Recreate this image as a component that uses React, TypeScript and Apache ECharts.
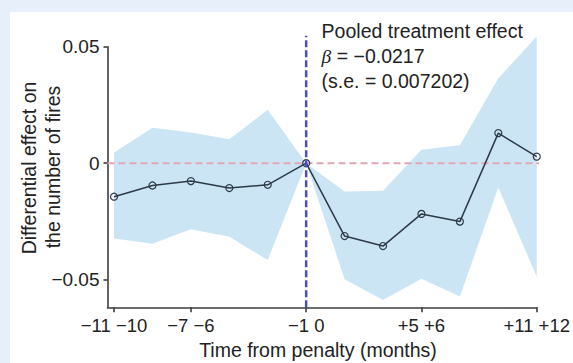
import React, { useEffect, useRef } from 'react';
import * as echarts from 'echarts';

// Two-month bins, relative to the penalty
const binLabels = ['−11 −10', '−9 −8', '−7 −6', '−5 −4', '−3 −2', '−1 0', '+1 +2', '+3 +4', '+5 +6', '+7 +8', '+9 +10', '+11 +12'];
const labelledBins = [0, 2, 5, 8, 11];
const estimate = [-0.0144, -0.0096, -0.0077, -0.0107, -0.0093, 0, -0.0313, -0.0356, -0.0218, -0.0251, 0.0129, 0.0028];
const upper = [0.0046, 0.0152, 0.0132, 0.0103, 0.0229, 0, -0.0122, -0.0119, 0.0057, 0.0077, 0.0365, 0.0544];
const lower = [-0.0324, -0.0346, -0.0284, -0.0316, -0.0416, 0, -0.0499, -0.0588, -0.0496, -0.0573, -0.0105, -0.0487];
const yTicks = [-0.05, 0, 0.05];
const yTickLabels = ['−0.05', '0', '0.05'];
const penaltyBin = 5;
const xRange = [-0.17, 11];
const yRange = [-0.0619, 0.05];
const zeroLineEnd = 11.2;
const penaltyLineTop = 0.0547;
const annotationLines = ['Pooled treatment effect', '{b|β} = −0.0217', '(s.e. = 0.007202)'];
const yTitleLines = ['Differential effect on', 'the number of fires'];
const xTitle = 'Time from penalty (months)';

const FONT = '"Liberation Sans", Arial, Helvetica, sans-serif';
const TEXT = '#222222';
const AXIS = '#3d3d3d';
const BAND = '#cce5f5';

export default function App() {
  const ref = useRef<HTMLDivElement>(null);
  useEffect(() => {
    if (!ref.current) return;
    const chart = echarts.init(ref.current, undefined, { renderer: 'svg' });
    const nearestY = (v: number) => {
      let best = 0;
      yTicks.forEach((t, i) => { if (Math.abs(t - v) < Math.abs(yTicks[best] - v)) best = i; });
      return yTickLabels[best];
    };
    chart.setOption({
      animation: false,
      grid: { left: 107.5, right: 32.8, top: 46.7, bottom: 55.7, containLabel: false },
      xAxis: {
        type: 'value',
        min: xRange[0],
        max: xRange[1],
        splitLine: { show: false },
        axisLine: { show: true, onZero: false, lineStyle: { color: AXIS, width: 1.6 } },
        axisTick: { show: true, customValues: labelledBins, length: 5, lineStyle: { color: AXIS, width: 1.6 } },
        axisLabel: {
          customValues: labelledBins,
          formatter: (v: number) => binLabels[Math.round(v)],
          color: TEXT, fontSize: 18.5, fontFamily: FONT, margin: 9,
        },
      },
      yAxis: {
        type: 'value',
        min: yRange[0],
        max: yRange[1],
        splitLine: { show: false },
        axisLine: { show: true, onZero: false, lineStyle: { color: AXIS, width: 1.6 } },
        axisTick: { show: true, customValues: yTicks, length: 4, lineStyle: { color: AXIS, width: 1.6 } },
        axisLabel: {
          customValues: yTicks,
          formatter: (v: number) => nearestY(v),
          color: TEXT, fontSize: 19, fontFamily: FONT, margin: 8,
        },
      },
      series: [
        {
          type: 'custom', name: 'band', clip: false, silent: true, z: 1,
          data: upper.map((v, i) => [i, v, lower[i]]),
          encode: { x: 0, y: [1, 2] },
          renderItem: (params: any, api: any) => {
            if (params.dataIndex !== 0) return null;
            const top = upper.map((v, i) => api.coord([i, v]));
            const bottom = lower.map((v, i) => api.coord([i, v])).reverse();
            return {
              type: 'polygon',
              shape: { points: top.concat(bottom) },
              style: { fill: BAND },
            };
          },
        },
        {
          type: 'line', name: 'zero', clip: false,
          data: [[xRange[0], 0], [zeroLineEnd, 0]],
          symbol: 'none',
          lineStyle: { color: '#e2a6b4', width: 2, type: [7, 4] }, z: 2, silent: true,
        },
        {
          type: 'line', name: 'estimate', clip: false,
          data: estimate.map((v, i) => [i, v]),
          symbol: 'circle', symbolSize: 7,
          lineStyle: { color: '#2c3a47', width: 1.5 },
          itemStyle: { color: 'rgba(0,0,0,0)', borderColor: '#2c3a47', borderWidth: 1.2 },
          z: 3,
        },
        {
          type: 'line', name: 'penalty', clip: false,
          data: [[penaltyBin, yRange[0]], [penaltyBin, penaltyLineTop]],
          symbol: 'none',
          lineStyle: { color: '#4a4ccc', width: 2.5, type: [7, 3] }, z: 4, silent: true,
        },
      ],
      graphic: [
        {
          type: 'text', x: 29, y: 168, rotation: Math.PI / 2,
          style: { text: yTitleLines[0], fontSize: 19.5, fontFamily: FONT, fill: TEXT, align: 'center', verticalAlign: 'middle' },
        },
        {
          type: 'text', x: 53, y: 167, rotation: Math.PI / 2,
          style: { text: yTitleLines[1], fontSize: 19.5, fontFamily: FONT, fill: TEXT, align: 'center', verticalAlign: 'middle' },
        },
        {
          type: 'text', x: 318, y: 350,
          style: { text: xTitle, fontSize: 19.5, fontFamily: FONT, fill: TEXT, align: 'center', verticalAlign: 'middle' },
        },
        ...annotationLines.map((t, i) => ({
          type: 'text', x: 321.6, y: 31 + i * 25,
          style: {
            text: t, fontSize: 19.5, fontFamily: FONT, fill: TEXT, align: 'left', verticalAlign: 'middle',
            rich: { b: { fontSize: 19.5, fontFamily: '"Liberation Serif", serif', fontStyle: 'italic', fill: TEXT } },
          },
        })),
      ],
    });
    return () => chart.dispose();
  }, []);
  return (
    <div style={{ position: 'fixed', left: 0, top: 0, width: 573, height: 363, background: '#e7f0fa' }}>
      <div style={{ position: 'absolute', left: 10, top: 12, width: 563, height: 351, background: '#ffffff' }} />
      <div ref={ref} style={{ position: 'absolute', left: 0, top: 0, width: 573, height: 363 }} />
    </div>
  );
}
